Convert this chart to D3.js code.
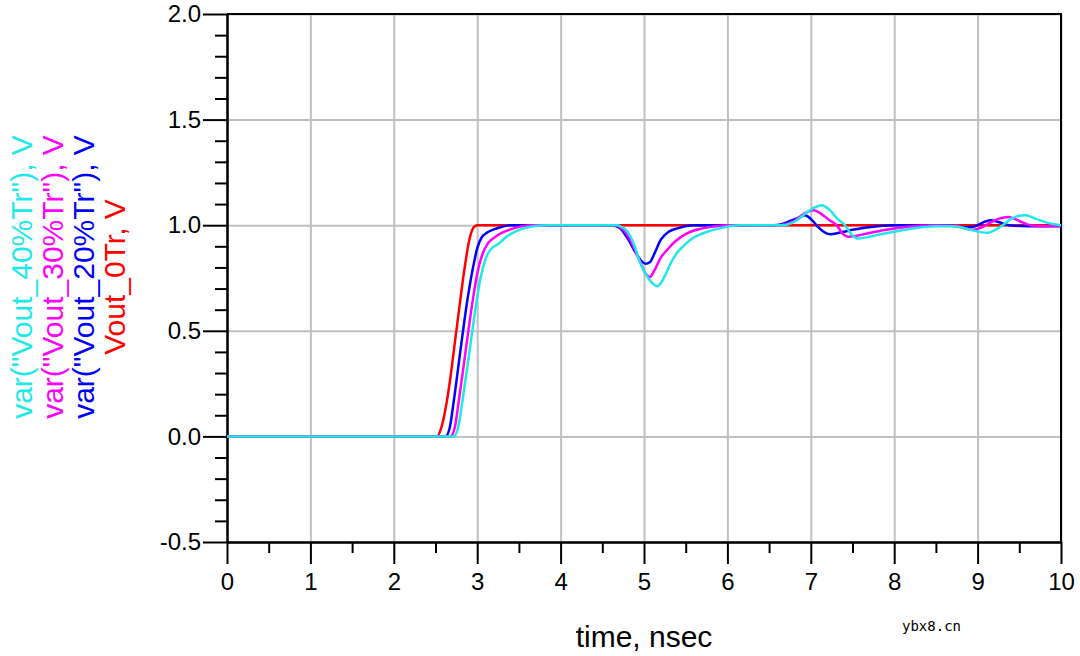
<!DOCTYPE html>
<html>
<head>
<meta charset="utf-8">
<script src="https://cdn.jsdelivr.net/npm/d3@7"></script>
<style>
  body {
    margin: 0;
    background: #fff;
  }
  svg {
    display: block;
    font-family: 'Liberation Sans', Arial, sans-serif;
  }
  .grid line {
    stroke: #c0c0c0;
    stroke-width: 2;
  }
  .grid .domain {
    display: none;
  }
  .axis path,
  .axis line {
    stroke: #000;
    stroke-width: 2;
  }
  .axis text {
    fill: #000;
    font-size: 24px;
  }
</style>
</head>
<body>
<div id="chart"></div>
<script>
// traces, time in nsec, vout in volts
const time0Tr = [0, 2.52, 2.56, 2.6, 2.65, 2.75, 2.85, 2.9, 2.95, 3.0, 10]
const vout0Tr = [0, 0, 0.03, 0.09, 0.2, 0.5, 0.8, 0.92, 0.985, 1.0, 1.0]

const time20Tr = [0, 2.62, 2.67, 2.72, 2.8, 2.88, 2.95, 3.0, 3.05, 3.12, 3.2, 3.3, 3.4, 4.6,
  4.7, 4.8, 4.9, 4.97, 5.02, 5.07, 5.13, 5.2, 5.3, 5.4, 5.6, 6.55,
  6.65, 6.75, 6.85, 6.93, 7.0, 7.08, 7.15, 7.23, 7.35, 7.5, 7.65, 7.8, 8.0, 8.6,
  8.75, 8.85, 8.95, 9.05, 9.15, 9.25, 9.38, 9.6, 10]
const vout20Tr = [0, 0, 0.04, 0.17, 0.41, 0.64, 0.8, 0.89, 0.94, 0.965, 0.98, 0.993, 1.0, 1.0,
  0.99, 0.94, 0.87, 0.83, 0.818, 0.825, 0.87, 0.93, 0.97, 0.985, 1.0, 1.0,
  1.005, 1.02, 1.035, 1.047, 1.03, 0.995, 0.97, 0.957, 0.965, 0.978, 0.988, 0.995, 1.0, 1.0,
  0.995, 0.99, 0.993, 1.01, 1.024, 1.015, 1.0, 0.995, 0.995]

const time30Tr = [0, 2.68, 2.73, 2.78, 2.86, 2.93, 3.0, 3.06, 3.13, 3.2, 3.3, 3.4, 3.5, 3.65, 4.65,
  4.75, 4.85, 4.95, 5.02, 5.07, 5.13, 5.2, 5.27, 5.38, 5.51, 5.65, 5.8, 6.0, 6.6,
  6.7, 6.8, 6.92, 7.03, 7.12, 7.22, 7.31, 7.38, 7.45, 7.55, 7.7, 7.85, 8.05, 8.3, 8.5,
  8.75, 8.85, 8.95, 9.05, 9.15, 9.25, 9.37, 9.5, 9.63, 9.8, 10]
const vout30Tr = [0, 0, 0.04, 0.17, 0.4, 0.6, 0.77, 0.86, 0.915, 0.94, 0.965, 0.98, 0.992, 1.0, 1.0,
  0.98, 0.92, 0.83, 0.77, 0.755, 0.79, 0.845, 0.88, 0.925, 0.96, 0.98, 0.992, 1.0, 1.0,
  1.005, 1.02, 1.055, 1.071, 1.055, 1.025, 1.0, 0.96, 0.945, 0.95, 0.963, 0.975, 0.987, 0.997, 1.0,
  0.997, 0.985, 0.978, 0.99, 1.012, 1.03, 1.039, 1.02, 1.0, 0.995, 0.998]

const time40Tr = [0, 2.72, 2.77, 2.82, 2.9, 2.97, 3.04, 3.1, 3.17, 3.25, 3.35, 3.45, 3.55, 3.7, 3.85, 4.68,
  4.72, 4.8, 4.88, 4.95, 5.05, 5.16, 5.25, 5.32, 5.39, 5.47, 5.55, 5.65, 5.75, 5.9, 6.15, 6.65,
  6.72, 6.82, 6.95, 7.05, 7.13, 7.22, 7.32, 7.41, 7.48, 7.57, 7.7, 7.85, 7.99, 8.15, 8.31, 8.5, 8.7,
  8.8, 8.95, 9.05, 9.13, 9.22, 9.3, 9.4, 9.5, 9.57, 9.7, 9.85, 10]
const vout40Tr = [0, 0, 0.04, 0.16, 0.38, 0.58, 0.75, 0.84, 0.89, 0.91, 0.945, 0.968, 0.984, 0.996, 1.0, 1.0,
  0.995, 0.97, 0.91, 0.826, 0.75, 0.711, 0.76, 0.82, 0.866, 0.9, 0.929, 0.952, 0.968, 0.985, 1.0, 1.0,
  1.003, 1.02, 1.06, 1.085, 1.095, 1.075, 1.03, 1.0, 0.96, 0.937, 0.945, 0.958, 0.968, 0.98, 0.989, 0.995, 0.995,
  0.99, 0.975, 0.966, 0.964, 0.98, 1.0, 1.03, 1.045, 1.047, 1.03, 1.01, 1.0]

const xTicks = [0, 1, 2, 3, 4, 5, 6, 7, 8, 9, 10]
const yTicks = [-0.5, 0, 0.5, 1.0, 1.5, 2.0]
const legendLabels = ['var("Vout_40%Tr"), V', 'var("Vout_30%Tr"), V', 'var("Vout_20%Tr"), V', 'Vout_0Tr, V']
const xLabel = 'time, nsec'

const width = 1080
const height = 656
const margin = { left: 227, right: 19, top: 14, bottom: 114 }

const svg = d3
  .select('#chart')
  .append('svg')
  .attr('width', width)
  .attr('height', height)

const x = d3
  .scaleLinear()
  .domain([0, 10])
  .range([margin.left, width - margin.right])

const y = d3
  .scaleLinear()
  .domain([-0.5, 2])
  .range([height - margin.bottom, margin.top])

// plain hyphen for negatives, like the original plot
const yFormat = (d) => d3.format('.1f')(d).replace('\u2212', '-')

// grid first so everything sits on top of it
svg.append('g')
  .attr('class', 'grid')
  .attr('transform', `translate(0,${y(-0.5)})`)
  .call(d3.axisBottom(x).tickValues(xTicks).tickSize(-(y(-0.5) - y(2))).tickFormat(''))

svg.append('g')
  .attr('class', 'grid')
  .attr('transform', `translate(${x(0)},0)`)
  .call(d3.axisLeft(y).tickValues(yTicks).tickSize(-(x(10) - x(0))).tickFormat(''))

// minor ticks, no labels
svg.append('g')
  .attr('class', 'axis')
  .attr('transform', `translate(0,${y(-0.5)})`)
  .call(d3.axisBottom(x).tickValues(d3.range(0.5, 10, 1)).tickSize(11).tickSizeOuter(0).tickFormat(''))

svg.append('g')
  .attr('class', 'axis')
  .attr('transform', `translate(${x(0)},0)`)
  .call(d3.axisLeft(y).tickValues(d3.range(-0.4, 2, 0.1).filter((d) => Math.abs(d * 2 - Math.round(d * 2)) > 0.01)).tickSize(12).tickSizeOuter(0).tickFormat(''))

svg.append('g')
  .attr('class', 'axis axis-x')
  .attr('transform', `translate(0,${y(-0.5)})`)
  .call(d3.axisBottom(x).tickValues(xTicks).tickSize(22).tickSizeOuter(0).tickPadding(9).tickFormat(d3.format('d')))

svg.append('g')
  .attr('class', 'axis axis-y')
  .attr('transform', `translate(${x(0)},0)`)
  .call(d3.axisLeft(y).tickValues(yTicks).tickSize(24).tickSizeOuter(0).tickPadding(2).tickFormat(yFormat))

// top and right edges of the frame
svg.append('path')
  .attr('d', `M${x(0)},${y(2)}H${x(10)}V${y(-0.5)}`)
  .attr('fill', 'none')
  .attr('stroke', '#000')
  .attr('stroke-width', 2)

const traces = [
  { t: time0Tr, v: vout0Tr, color: '#ff0000' },
  { t: time20Tr, v: vout20Tr, color: '#0000ff' },
  { t: time30Tr, v: vout30Tr, color: '#ff00ff' },
  { t: time40Tr, v: vout40Tr, color: '#1ee8e8' },
]

const line = d3
  .line()
  .x((d) => x(d[0]))
  .y((d) => y(d[1]))
  .curve(d3.curveMonotoneX)

svg.append('g')
  .selectAll('path')
  .data(traces)
  .enter()
  .append('path')
  .attr('fill', 'none')
  .attr('stroke', (d) => d.color)
  .attr('stroke-width', 2.5)
  .attr('stroke-linejoin', 'round')
  .attr('d', (d) => line(d3.zip(d.t, d.v)))

// rotated legend down the left side
const legendColors = ['#1ee8e8', '#ff00ff', '#0000ff', '#ff0000']
svg.append('g')
  .selectAll('text')
  .data(legendLabels)
  .enter()
  .append('text')
  .attr('transform', (d, i) => `translate(${32 + i * 31},277) rotate(-90)`)
  .attr('text-anchor', 'middle')
  .attr('font-size', 30)
  .attr('fill', (d, i) => legendColors[i])
  .text((d) => d)

svg.append('text')
  .attr('x', (x(0) + x(10)) / 2)
  .attr('y', 647)
  .attr('text-anchor', 'middle')
  .attr('font-size', 30)
  .attr('fill', '#000')
  .text(xLabel)

svg.append('text')
  .attr('x', 902)
  .attr('y', 631)
  .attr('font-family', "'DejaVu Sans Mono', monospace")
  .attr('font-size', 14)
  .attr('fill', '#000')
  .text('ybx8.cn')
</script>
</body>
</html>
